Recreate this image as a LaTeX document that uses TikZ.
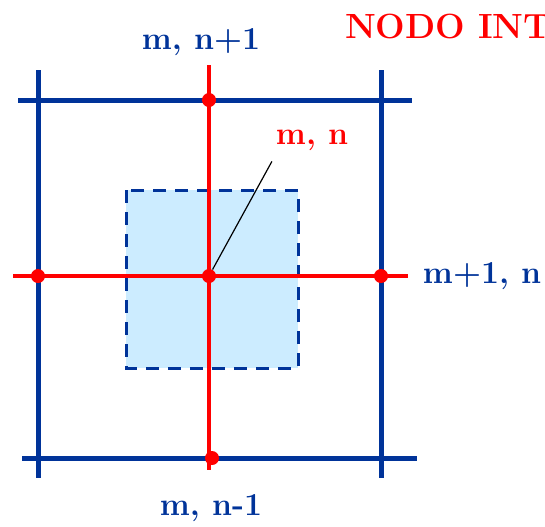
\documentclass[tikz,border=0pt]{standalone}
\usetikzlibrary{positioning}
\definecolor{gridblue}{RGB}{0,51,153}
\definecolor{cellfill}{RGB}{204,236,255}

\tikzset{
    bluegrid/.style={draw=gridblue, line width=2.5pt},
    redgrid/.style={draw=red, line width=2pt},
    gridnode/.style={circle, fill=red, inner sep=0pt, minimum size=7pt},
    bluelabel/.style={text=gridblue, font=\fontsize{16}{19}\selectfont\bfseries},
    redlabel/.style={text=red, font=\fontsize{16}{19}\selectfont\bfseries},
}

\begin{document}
\begin{tikzpicture}[x=0.5pt, y=-0.5pt]
\clip (0,0) rectangle (545,526);
\useasboundingbox (0,0) rectangle (545,526);

% --- control volume ---
\draw [
    draw=gridblue,
    line width=1.5pt,
    dash pattern=on 6.5pt off 4.5pt,
    fill=cellfill,
] (126,190) rectangle (298,368);

% --- grid line ends ---
\coordinate (bv1top) at (38,70);
\coordinate (bv1bot) at (38,478);
\coordinate (bv2top) at (381,70);
\coordinate (bv2bot) at (381,478);
\coordinate (bh1left) at (18,100);
\coordinate (bh1right) at (412,100);
\coordinate (bh2left) at (22,458);
\coordinate (bh2right) at (417,458);
\coordinate (rvtop) at (209,65);
\coordinate (rvbot) at (209,470);
\coordinate (rhleft) at (13,276);
\coordinate (rhright) at (408,276);

% --- blue grid ---
\draw [bluegrid] (bv1top) -- (bv1bot);
\draw [bluegrid] (bv2top) -- (bv2bot);
\draw [bluegrid] (bh1left) -- (bh1right);
\draw [bluegrid] (bh2left) -- (bh2right);

% --- red grid ---
\draw [redgrid] (rvtop) -- (rvbot);
\draw [redgrid] (rhleft) -- (rhright);

% --- grid nodes ---
\node [gridnode] (north) at (209,100) {};
\node [gridnode] (west) at (38,276) {};
\node [gridnode] (centre) at (209,276) {};
\node [gridnode] (east) at (381,276) {};
\node [gridnode] (south) at (212,458) {};

% --- labels ---
\node [bluelabel] (northlabel) at (201,42) {m, n+1};
\node [bluelabel] (eastlabel) at (482,276) {m+1, n};
\node [bluelabel] (southlabel) at (211,508) {m, n-1};
\node [redlabel] (centrelabel) at (312,140) {m, n};
\node [
    text=red,
    font=\fontsize{17.5}{20}\selectfont\bfseries,
    anchor=west,
] (title) at (338,26) {NODO INTERNO};

% --- leader ---
\draw [black, line width=0.6pt] (centrelabel.south west) ++(3,4) coordinate (leadstart) -- (centre);

\end{tikzpicture}
\end{document}
